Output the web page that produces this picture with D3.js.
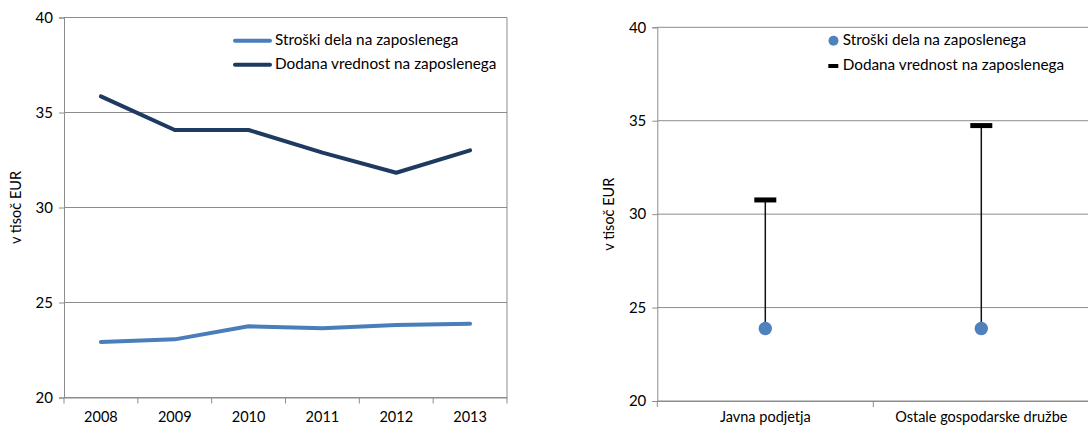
<!DOCTYPE html>
<html><head><meta charset="utf-8">
<script src="https://cdn.jsdelivr.net/npm/d3@7"></script>
<style>body{margin:0;background:#fff}svg{display:block}text{font-family:Lato,"Open Sans",sans-serif;fill:#000}</style>
</head><body>
<svg id="c" width="1088" height="429"></svg>
<script>
const years = ["2008","2009","2010","2011","2012","2013"];
const laborCost = [22.92, 23.06, 23.75, 23.64, 23.82, 23.88];
const valueAdded = [35.85, 34.08, 34.08, 32.89, 31.83, 33.01];
const yTicks = [20, 25, 30, 35, 40];
const groups = ["Javna podjetja", "Ostale gospodarske družbe"];
const groupLaborCost = [23.88, 23.88];
const groupValueAdded = [30.76, 34.74];
const seriesNames = ["Stroški dela na zaposlenega", "Dodana vrednost na zaposlenega"];
const yLabel = "v tisoč EUR";

const svg = d3.select("#c");
const lightBlue = "#4A7EBB", darkBlue = "#1F3A60", gridC = "#8c8c8c";
const FS = 15;

function frame(g, x, y, x0, x1, y0, y1, labelX, xPad) {
  g.append("g").selectAll("line").data(yTicks).join("line")
    .attr("x1", x0).attr("x2", x1).attr("y1", d => y(d)).attr("y2", d => y(d))
    .attr("stroke", gridC).attr("stroke-width", 1);
  const ya = g.append("g").attr("transform", `translate(${x0},0)`)
    .call(d3.axisLeft(y).tickValues(yTicks).tickSize(5).tickPadding(6));
  ya.select(".domain").attr("stroke", gridC);
  ya.selectAll(".tick line").attr("stroke", gridC);
  ya.selectAll(".tick text").attr("font-size", FS).attr("font-family", "Lato");
  const xa = g.append("g").attr("transform", `translate(0,${y1})`)
    .call(d3.axisBottom(x).tickSize(0).tickPadding(xPad));
  xa.select(".domain").attr("stroke", gridC);
  xa.selectAll(".tick text").attr("font-size", FS - 0.5).attr("font-family", "Lato");
  const bounds = x.domain().map(d => x(d)).concat([x.range()[1]]);
  g.append("g").selectAll("line").data(bounds).join("line")
    .attr("x1", d => d).attr("x2", d => d).attr("y1", y1).attr("y2", y1 + 6)
    .attr("stroke", gridC);
  g.append("text").attr("transform", `translate(${labelX},${(y0 + y1) / 2}) rotate(-90)`)
    .attr("text-anchor", "middle").attr("dominant-baseline", "middle")
    .attr("font-size", FS - 0.5).text(yLabel);
}

// LEFT CHART
{
  const x0 = 64, x1 = 507, y0 = 17.5, y1 = 397.5;
  const x = d3.scaleBand().domain(years).range([x0, x1]);
  const y = d3.scaleLinear().domain([20, 40]).range([y1, y0]);
  const g = svg.append("g");
  frame(g, x, y, x0, x1, y0, y1, 17, 14);
  g.append("line").attr("x1", x1).attr("x2", x1).attr("y1", y0).attr("y2", y1).attr("stroke", gridC);
  const line = d3.line().x((d, i) => x(years[i]) + x.bandwidth() / 2).y(d => y(d));
  [[laborCost, lightBlue], [valueAdded, darkBlue]].forEach(([data, c]) => {
    g.append("path").attr("d", line(data)).attr("fill", "none").attr("stroke", c)
      .attr("stroke-width", 4).attr("stroke-linejoin", "round").attr("stroke-linecap", "round");
  });
  [[lightBlue, 40.7], [darkBlue, 64.7]].forEach(([c, ly], i) => {
    g.append("line").attr("x1", 235).attr("x2", 270).attr("y1", ly).attr("y2", ly)
      .attr("stroke", c).attr("stroke-width", 4).attr("stroke-linecap", "round");
    g.append("text").attr("x", 275).attr("y", ly).attr("dominant-baseline", "middle")
      .attr("font-size", FS + 0.3).text(seriesNames[i]);
  });
}

// RIGHT CHART
{
  const x0 = 657.3, x1 = 1089.3, y0 = 27.3, y1 = 401;
  const x = d3.scaleBand().domain(groups).range([x0, x1]);
  const y = d3.scaleLinear().domain([20, 40]).range([y1, y0]);
  const g = svg.append("g");
  frame(g, x, y, x0, x1, y0, y1, 610, 11);
  const cx = d => x(d) + x.bandwidth() / 2;
  g.append("g").selectAll("line").data(groups).join("line")
    .attr("x1", d => cx(d)).attr("x2", d => cx(d))
    .attr("y1", (d, i) => y(groupValueAdded[i])).attr("y2", (d, i) => y(groupLaborCost[i]))
    .attr("stroke", "#111").attr("stroke-width", 1.5);
  g.append("g").selectAll("rect").data(groups).join("rect")
    .attr("x", d => cx(d) - 11).attr("width", 22)
    .attr("y", (d, i) => y(groupValueAdded[i]) - 2.5).attr("height", 5).attr("fill", "#000");
  g.append("g").selectAll("circle").data(groups).join("circle")
    .attr("cx", d => cx(d)).attr("cy", (d, i) => y(groupLaborCost[i])).attr("r", 6.7)
    .attr("fill", "#4F81BD");
  g.append("circle").attr("cx", 833.5).attr("cy", 40.7).attr("r", 5).attr("fill", "#4F81BD");
  g.append("rect").attr("x", 828.3).attr("y", 64).attr("width", 10).attr("height", 4).attr("fill", "#000");
  [40.7, 66].forEach((ly, i) => {
    g.append("text").attr("x", 842.7).attr("y", ly).attr("dominant-baseline", "middle")
      .attr("font-size", FS + 0.3).text(seriesNames[i]);
  });
}
</script>
</body></html>
